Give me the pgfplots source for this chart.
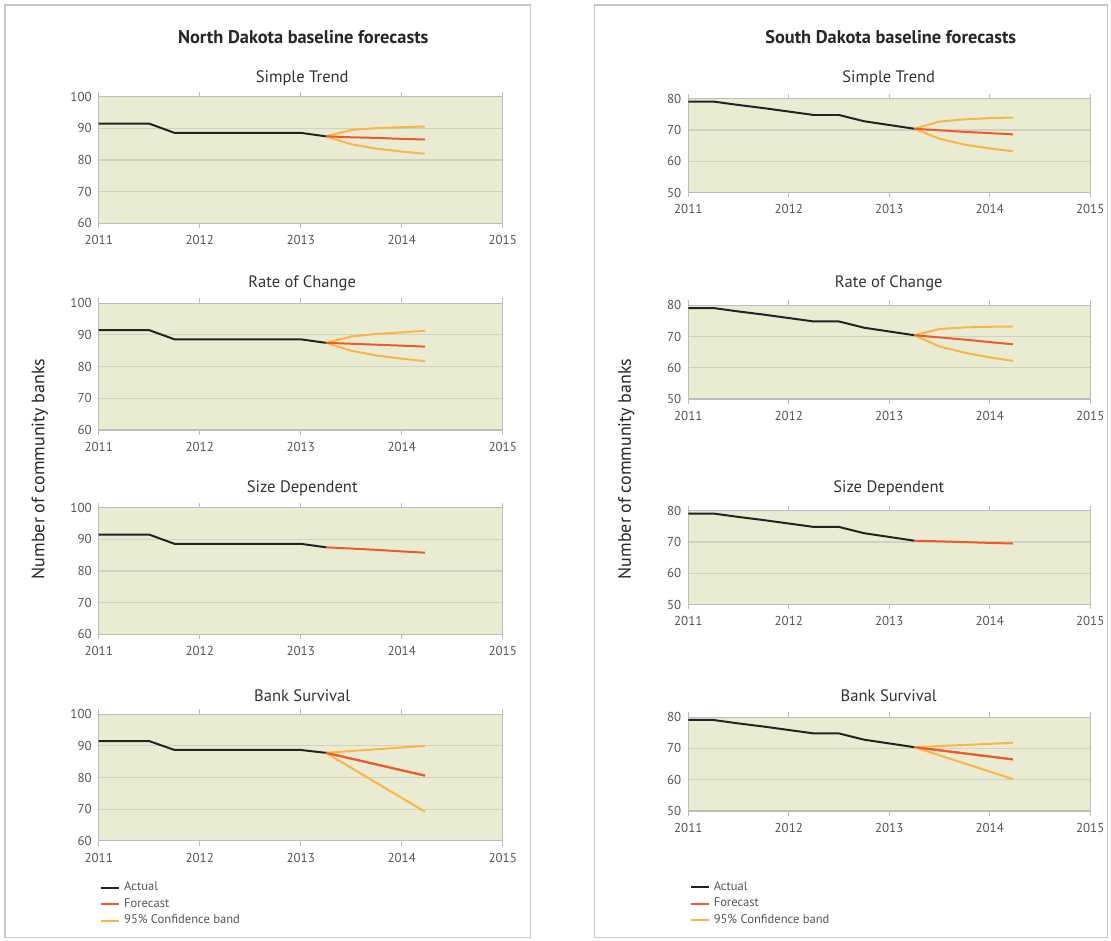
\documentclass[border=0pt]{standalone}
\usepackage{pgfplots}
\pgfplotsset{compat=1.18}
\usepackage{fontspec}
\setmainfont{PT Sans}
\definecolor{bgc}{HTML}{E9ECD3}
\definecolor{gridc}{HTML}{CFD1C2}
\definecolor{axc}{HTML}{BDBDBD}
\definecolor{tlc}{HTML}{555555}
\definecolor{actc}{HTML}{232323}
\definecolor{fcc}{HTML}{EE5A2A}
\definecolor{cbc}{HTML}{FDB447}
\definecolor{framec}{HTML}{C8C8C8}
\pgfplotsset{
  panel/.style={
    scale only axis, anchor=south west,
    xmin=2011, xmax=2015, xtick={2011,2012,2013,2014,2015},
    axis background/.style={fill=bgc},
    ymajorgrids, grid style={draw=gridc, line width=0.6pt},
    axis line style={draw=axc, line width=0.6pt},
    tick style={draw=axc, line width=0.6pt},
    xtick align=outside, major tick length=2.5pt,
    ytick style={draw=none},
    tick label style={font=\fontsize{6.5}{7}\selectfont, text=tlc},
    /pgf/number format/1000 sep={},
    /pgf/number format/assume math mode=true,
    every axis plot/.append style={line width=1pt, no markers, line join=round},
    clip=false,
  },
  nd/.style={panel, width=202.5pt, height=63.5pt, ymin=60, ymax=100, ytick={60,70,80,90,100}},
  sd/.style={panel, width=201.5pt, height=47pt, ymin=50, ymax=80, ytick={50,60,70,80}},
  leg/.style={legend style={draw=none, fill=none, font=\fontsize{6.3}{7}\selectfont, text=tlc,
      cells={anchor=west}, row sep=-1.6pt, anchor=north west},
      legend image code/.code={\draw[line width=1pt,##1] (0pt,0pt) -- (9pt,0pt);}},
}
\begin{document}
\begin{tikzpicture}
\path (0pt,0pt) rectangle (555.5pt,471.5pt);
\draw[framec, line width=0.6pt] (2.5pt,1.5pt) rectangle (266pt,469pt);
\draw[framec, line width=0.6pt] (298pt,1.5pt) rectangle (555pt,469pt);
\node[font=\bfseries\fontsize{9.2}{11}\selectfont, text=black!85] at (152pt,453pt) {North Dakota baseline forecasts};
\node[font=\bfseries\fontsize{9.2}{11}\selectfont, text=black!85] at (446.5pt,453pt) {South Dakota baseline forecasts};
\node[font=\fontsize{8.3}{10}\selectfont, text=black!80] at (151.5pt,432.5pt) {Simple Trend};
\node[font=\fontsize{8.3}{10}\selectfont, text=black!80] at (151.5pt,329.5pt) {Rate of Change};
\node[font=\fontsize{8.3}{10}\selectfont, text=black!80] at (151.5pt,226.5pt) {Size Dependent};
\node[font=\fontsize{8.3}{10}\selectfont, text=black!80] at (151.5pt,123pt) {Bank Survival};
\node[font=\fontsize{8.3}{10}\selectfont, text=black!80] at (445.5pt,432.5pt) {Simple Trend};
\node[font=\fontsize{8.3}{10}\selectfont, text=black!80] at (445.5pt,329.5pt) {Rate of Change};
\node[font=\fontsize{8.3}{10}\selectfont, text=black!80] at (445.5pt,226.5pt) {Size Dependent};
\node[font=\fontsize{8.3}{10}\selectfont, text=black!80] at (445.5pt,123pt) {Bank Survival};
\node[font=\fontsize{9}{11}\selectfont, rotate=90, text=black!85] at (20pt,236.5pt) {Number of community banks};
\node[font=\fontsize{9}{11}\selectfont, rotate=90, text=black!85] at (314pt,236.5pt) {Number of community banks};

% ---------- North Dakota ----------
\begin{axis}[nd, at={(49.5pt,359.5pt)}]
\addplot[actc] coordinates {(2011,91.5) (2011.25,91.5) (2011.5,91.5) (2011.75,88.6) (2012,88.6) (2012.25,88.6) (2012.5,88.6) (2012.75,88.6) (2013,88.6) (2013.25,87.5)};
\addplot[cbc] coordinates {(2013.25,87.5) (2013.5,89.5) (2013.75,90.1) (2014,90.4) (2014.23,90.6)};
\addplot[cbc] coordinates {(2013.25,87.5) (2013.5,85.0) (2013.75,83.6) (2014,82.7) (2014.23,82.0)};
\addplot[fcc] coordinates {(2013.25,87.5) (2013.5,87.2) (2013.75,87.0) (2014,86.7) (2014.23,86.5)};
\end{axis}
\begin{axis}[nd, at={(49.5pt,256pt)}]
\addplot[actc] coordinates {(2011,91.5) (2011.25,91.5) (2011.5,91.5) (2011.75,88.6) (2012,88.6) (2012.25,88.6) (2012.5,88.6) (2012.75,88.6) (2013,88.6) (2013.25,87.5)};
\addplot[cbc] coordinates {(2013.25,87.5) (2013.5,89.5) (2013.75,90.3) (2014,90.8) (2014.23,91.3)};
\addplot[cbc] coordinates {(2013.25,87.5) (2013.5,85.0) (2013.75,83.5) (2014,82.5) (2014.23,81.7)};
\addplot[fcc] coordinates {(2013.25,87.5) (2013.5,87.2) (2013.75,86.9) (2014,86.6) (2014.23,86.3)};
\end{axis}
\begin{axis}[nd, at={(49.5pt,153.5pt)}]
\addplot[actc] coordinates {(2011,91.5) (2011.25,91.5) (2011.5,91.5) (2011.75,88.6) (2012,88.6) (2012.25,88.6) (2012.5,88.6) (2012.75,88.6) (2013,88.6) (2013.25,87.5)};
\addplot[fcc] coordinates {(2013.25,87.5) (2013.5,87.1) (2013.75,86.7) (2014,86.2) (2014.23,85.8)};
\end{axis}
\begin{axis}[nd, leg, at={(49.5pt,50pt)}, legend style={at={(axis description cs:-0.012,-0.255)}}]
\addplot[actc] coordinates {(2011,91.5) (2011.25,91.5) (2011.5,91.5) (2011.75,88.7) (2012,88.7) (2012.25,88.7) (2012.5,88.7) (2012.75,88.7) (2013,88.7) (2013.25,87.8)};
\addlegendentry{Actual}
\addplot[fcc] coordinates {(2013.25,87.8) (2014.23,80.6)};
\addlegendentry{Forecast}
\addplot[cbc] coordinates {(2013.25,87.8) (2014.23,90.0)};
\addlegendentry{95\% Confidence band}
\addplot[cbc, forget plot] coordinates {(2013.25,87.8) (2014.23,69.2)};
\addplot[fcc, forget plot] coordinates {(2013.25,87.8) (2014.23,80.6)};
\end{axis}

% ---------- South Dakota ----------
\begin{axis}[sd, at={(345pt,375pt)}]
\addplot[actc] coordinates {(2011,79.1) (2011.25,79.1) (2011.5,78.0) (2011.75,77.0) (2012,75.9) (2012.25,74.8) (2012.5,74.8) (2012.75,72.8) (2013,71.6) (2013.25,70.4)};
\addplot[cbc] coordinates {(2013.25,70.4) (2013.5,72.7) (2013.75,73.4) (2014,73.8) (2014.23,74.0)};
\addplot[cbc] coordinates {(2013.25,70.4) (2013.5,67.2) (2013.75,65.3) (2014,64.1) (2014.23,63.2)};
\addplot[fcc] coordinates {(2013.25,70.4) (2013.5,69.9) (2013.75,69.4) (2014,69.0) (2014.23,68.6)};
\end{axis}
\begin{axis}[sd, at={(345pt,271.5pt)}]
\addplot[actc] coordinates {(2011,79.1) (2011.25,79.1) (2011.5,78.0) (2011.75,77.0) (2012,75.9) (2012.25,74.8) (2012.5,74.8) (2012.75,72.8) (2013,71.6) (2013.25,70.4)};
\addplot[cbc] coordinates {(2013.25,70.4) (2013.5,72.4) (2013.75,72.9) (2014,73.1) (2014.23,73.2)};
\addplot[cbc] coordinates {(2013.25,70.4) (2013.5,66.8) (2013.75,64.8) (2014,63.3) (2014.23,62.2)};
\addplot[fcc] coordinates {(2013.25,70.4) (2013.5,69.7) (2013.75,69.0) (2014,68.2) (2014.23,67.5)};
\end{axis}
\begin{axis}[sd, at={(345pt,168.5pt)}]
\addplot[actc] coordinates {(2011,79.1) (2011.25,79.1) (2011.5,78.0) (2011.75,77.0) (2012,75.9) (2012.25,74.8) (2012.5,74.8) (2012.75,72.8) (2013,71.6) (2013.25,70.4)};
\addplot[fcc] coordinates {(2013.25,70.4) (2013.5,70.2) (2013.75,69.95) (2014,69.7) (2014.23,69.5)};
\end{axis}
\begin{axis}[sd, leg, at={(345pt,65pt)}, legend style={at={(axis description cs:-0.012,-0.66)}}]
\addplot[actc] coordinates {(2011,79.1) (2011.25,79.1) (2011.5,78.0) (2011.75,77.0) (2012,75.9) (2012.25,74.8) (2012.5,74.8) (2012.75,72.8) (2013,71.6) (2013.25,70.4)};
\addlegendentry{Actual}
\addplot[fcc] coordinates {(2013.25,70.4) (2014.23,66.5)};
\addlegendentry{Forecast}
\addplot[cbc] coordinates {(2013.25,70.4) (2014.23,71.8)};
\addlegendentry{95\% Confidence band}
\addplot[cbc, forget plot] coordinates {(2013.25,70.4) (2014.23,60.2)};
\addplot[fcc, forget plot] coordinates {(2013.25,70.4) (2014.23,66.5)};
\end{axis}
\end{tikzpicture}
\end{document}
